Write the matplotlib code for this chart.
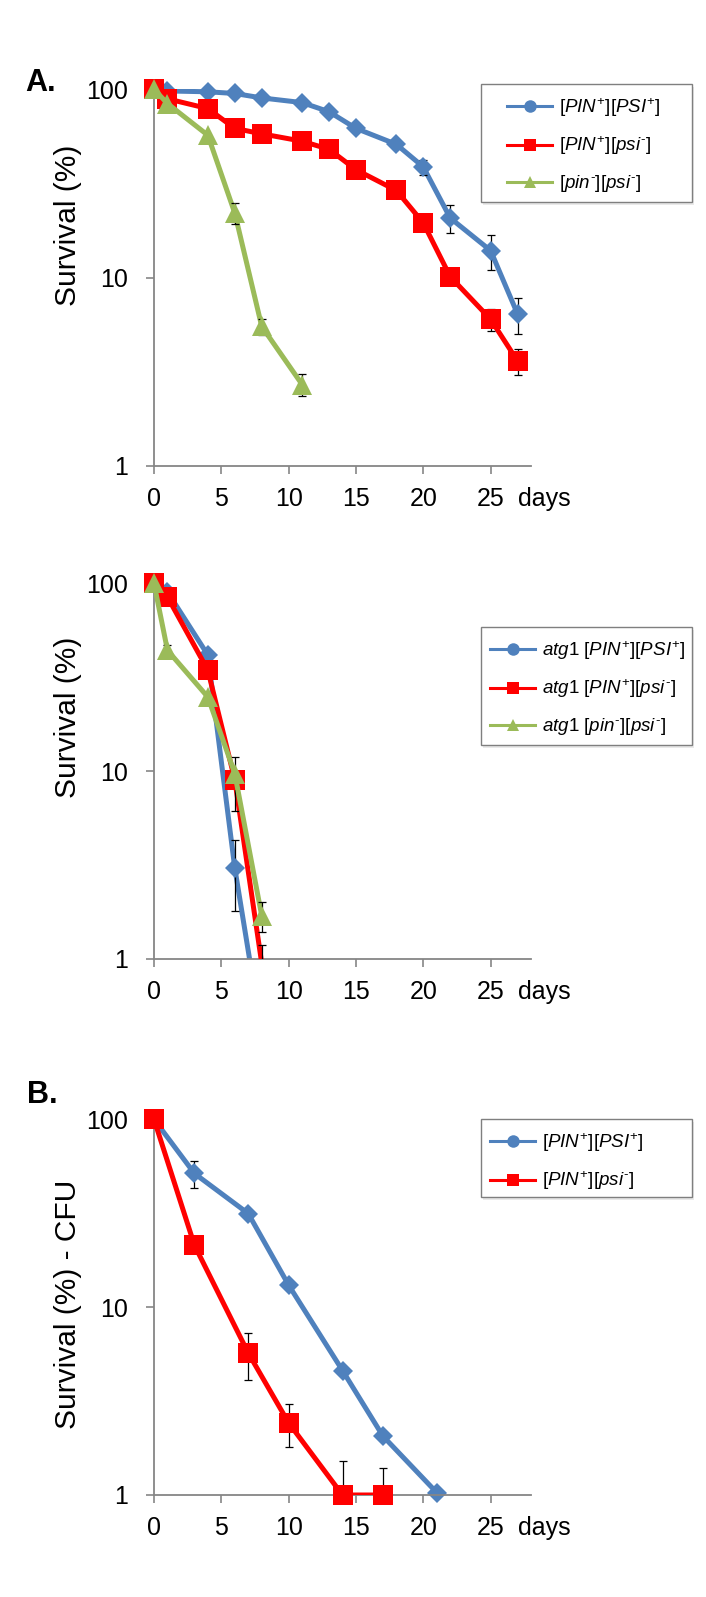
"""
Survival curves (log scale) for prion strains, three panels.
"""
import numpy as np
import matplotlib
matplotlib.use("Agg")
import matplotlib.pyplot as plt
from matplotlib.lines import Line2D
from matplotlib.patches import Rectangle
from matplotlib.ticker import NullLocator

# -------------------------
# Data
# -------------------------
# Panel A, top: wild type
days_a = [0, 1, 4, 6, 8, 11, 13, 15, 18, 20, 22, 25, 27]
a_psi_plus = [100, 98, 97, 95, 90, 85, 76, 62, 51, 38.7, 20.7, 13.9, 6.4]
a_psi_plus_err = [0, 0, 0, 0, 0, 0, 0, 0, 0, 3.6, 3.5, 3.0, 1.4]
a_psi_minus = [100, 89, 79, 62, 58, 53, 48, 37.4, 29, 19.5, 10.1, 6.0, 3.6]
a_psi_minus_err = [0, 0, 0, 0, 0, 0, 0, 0, 0, 0, 0, 0.8, 0.55]
days_a_pin = [0, 1, 4, 6, 8, 11]
a_pin_minus = [100, 84, 57, 22, 5.5, 2.7]
a_pin_minus_err = [0, 0, 0, 2.8, 0.55, 0.36]

# Panel A, bottom: atg1 mutants
days_atg = [0, 1, 4, 6, 8]
atg_psi_plus = [100, 90, 41.5, 3.05, 0.40]
atg_psi_plus_err = [0, 0, 0, 1.24, 0]
atg_psi_minus = [100, 84.5, 34.5, 9.0, 0.95]
atg_psi_minus_err = [0, 0, 0, 2.9, 0.24]
atg_pin_minus = [100, 44, 24.8, 9.7, 1.7]
atg_pin_minus_err = [0, 3, 0, 0, 0.3]

# Panel B: CFU
days_cfu_plus = [0, 3, 7, 10, 14, 17, 21]
cfu_psi_plus = [100, 51.5, 31.5, 13.1, 4.6, 2.06, 1.03]
cfu_psi_plus_err = [0, 8.3, 0, 0, 0, 0, 0]
days_cfu_minus = [0, 3, 7, 10, 14, 17]
cfu_psi_minus = [100, 21.4, 5.7, 2.42, 1.0, 1.0]
cfu_psi_minus_err = [0, 0, 1.6, 0.62, 0.52, 0.39]

x_ticks = [0, 5, 10, 15, 20, 25]
y_ticks = [1, 10, 100]
y_tick_labels = ["1", "10", "100"]

lab_plus = r"[$\mathit{PIN}^{+}$][$\mathit{PSI}^{+}$]"
lab_minus = r"[$\mathit{PIN}^{+}$][$\mathit{psi}^{\text{-}}$]"
lab_pin = r"[$\mathit{pin}^{\text{-}}$][$\mathit{psi}^{\text{-}}$]"

BLUE = "#4F81BD"
RED = "#FF0000"
GREEN = "#9BBB59"
AXCOL = "#868686"

W, H = 706, 1597

plt.rcParams["font.family"] = ["Liberation Sans", "DejaVu Sans"]
plt.rcParams["mathtext.fontset"] = "custom"
plt.rcParams["mathtext.rm"] = "Liberation Sans"
plt.rcParams["mathtext.it"] = "Liberation Sans:italic"
plt.rcParams["mathtext.sf"] = "Liberation Sans"


def fx(px):
    return px / W


def fy(py):
    return 1 - py / H


def draw_series(ax, days, vals, errs, color, marker, ms, z):
    days = np.asarray(days, float)
    vals = np.asarray(vals, float)
    errs = np.asarray(errs, float)
    ax.plot(days, vals, color=color, lw=3.6, zorder=z)
    m = errs > 0
    if m.any():
        ax.errorbar(days[m], vals[m], yerr=errs[m], fmt="none", ecolor="black",
                    elinewidth=0.9, capsize=2.6, capthick=0.9, zorder=z + 0.1)
    # markers below the axis are not shown (like Excel)
    v = vals >= 0.999
    ax.plot(days[v], vals[v], ls="none", marker=marker, ms=ms, color=color,
            mec=color, mew=0, clip_on=False, zorder=z + 0.2)


def setup_axes(fig, top, bottom, ylabel, label_y):
    ax = fig.add_axes([fx(154), fy(bottom), (531 - 154) / W, (bottom - top) / H])
    ax.set_yscale("log")
    ax.set_ylim(1, 100)
    ax.set_xlim(0, 28)
    ax.set_yticks(y_ticks)
    ax.set_yticklabels(y_tick_labels)
    ax.yaxis.set_minor_locator(NullLocator())
    ax.set_xticks(x_ticks)
    for s in ["top", "right"]:
        ax.spines[s].set_visible(False)
    for s in ["left", "bottom"]:
        ax.spines[s].set_color(AXCOL)
        ax.spines[s].set_linewidth(1.3)
    ax.tick_params(axis="both", direction="out", length=6, width=1.2,
                   color=AXCOL, labelsize=18)
    ax.tick_params(axis="y", pad=13)
    ax.tick_params(axis="x", pad=9)
    ax.set_ylabel(ylabel, fontsize=21.5)
    ax.yaxis.set_label_coords(-0.19, label_y)
    ax.annotate("days", xy=(27.0, 0), xycoords=("data", "axes fraction"),
                xytext=(0, -15), textcoords="offset points",
                ha="left", va="top", fontsize=18)
    return ax


def add_legend(fig, ax, handles, labels, box, hx, row_top):
    x0, y0, x1, y1 = box
    shadow = Rectangle((fx(x0 + 2), fy(y1 + 3)), (x1 - x0) / W, (y1 - y0) / H,
                       transform=fig.transFigure, clip_on=False, zorder=4.4,
                       fc="#e9e9e9", ec="none")
    rect = Rectangle((fx(x0), fy(y1)), (x1 - x0) / W, (y1 - y0) / H,
                     transform=fig.transFigure, clip_on=False, zorder=4.5,
                     fc="white", ec="#7f7f7f", lw=1.0)
    ax.add_patch(shadow)
    ax.add_patch(rect)
    leg = ax.legend(handles, labels, loc="upper left",
                    bbox_to_anchor=(fx(hx), fy(row_top)),
                    bbox_transform=fig.transFigure, frameon=False,
                    fontsize=13.5, borderpad=0, borderaxespad=0,
                    handlelength=2.4, handletextpad=0.35, labelspacing=0.85)
    leg.set_zorder(5)


def handle(color, marker):
    return Line2D([], [], color=color, lw=2.2, marker=marker, ms=9, mew=0)


fig = plt.figure(figsize=(W / 100, H / 100), dpi=100)

# -------------------------
# Panel A top
# -------------------------
ax1 = setup_axes(fig, 89.3, 465.7, "Survival (%)", 0.638)
draw_series(ax1, days_a, a_psi_plus, a_psi_plus_err, BLUE, "D", 10, 2)
draw_series(ax1, days_a, a_psi_minus, a_psi_minus_err, RED, "s", 15, 3)
draw_series(ax1, days_a_pin, a_pin_minus, a_pin_minus_err, GREEN, "^", 14, 4)
add_legend(fig, ax1,
           [handle(BLUE, "o"), handle(RED, "s"), handle(GREEN, "^")],
           [lab_plus, lab_minus, lab_pin],
           (481, 84, 692, 202), 507, 96)

# -------------------------
# Panel A bottom (atg1)
# -------------------------
ax2 = setup_axes(fig, 583.3, 959, "Survival (%)", 0.644)
draw_series(ax2, days_atg, atg_psi_plus, atg_psi_plus_err, BLUE, "D", 10, 2)
draw_series(ax2, days_atg, atg_psi_minus, atg_psi_minus_err, RED, "s", 15, 3)
draw_series(ax2, days_atg, atg_pin_minus, atg_pin_minus_err, GREEN, "^", 14, 4)
add_legend(fig, ax2,
           [handle(BLUE, "o"), handle(RED, "s"), handle(GREEN, "^")],
           [r"$\mathit{atg1}$ " + lab_plus, r"$\mathit{atg1}$ " + lab_minus,
            r"$\mathit{atg1}$ " + lab_pin],
           (481, 627, 692, 745), 490, 639)

# -------------------------
# Panel B
# -------------------------
ax3 = setup_axes(fig, 1119.3, 1495, "Survival (%) - CFU", 0.508)
draw_series(ax3, days_cfu_plus, cfu_psi_plus, cfu_psi_plus_err, BLUE, "D", 10, 2)
draw_series(ax3, days_cfu_minus, cfu_psi_minus, cfu_psi_minus_err, RED, "s", 15, 3)
add_legend(fig, ax3,
           [handle(BLUE, "o"), handle(RED, "s")],
           [lab_plus, lab_minus],
           (481, 1119, 692, 1197), 490, 1131)

fig.text(fx(25), fy(68), "A.", fontsize=22, weight="bold", va="top", ha="left")
fig.text(fx(27), fy(1080), "B.", fontsize=22, weight="bold", va="top", ha="left")

fig.savefig("out.png", dpi=100)
